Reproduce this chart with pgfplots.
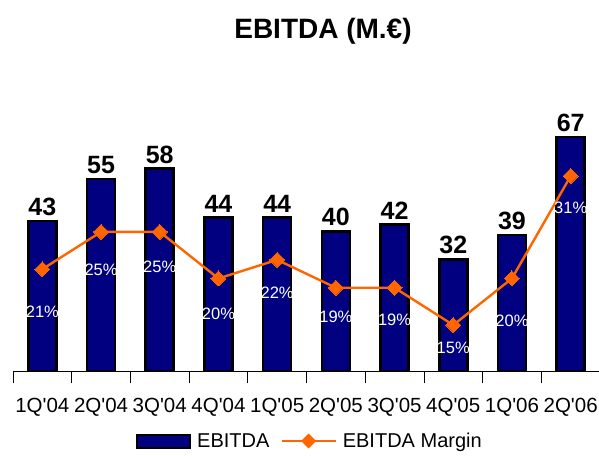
\documentclass[border=0pt]{standalone}
\usepackage{pgfplots}
\pgfplotsset{compat=1.18}
\usepackage{fontspec}
\setmainfont{Liberation Sans}
\definecolor{navy}{RGB}{0,0,128}
\definecolor{orng}{RGB}{255,102,0}
\pgfplotstableread{
x v
0 43
1 55
2 58
3 44
4 44
5 40
6 42
7 32
8 39
9 67
}\ebitda
\pgfplotstableread{
x m off
0 21 43
1 25 38
2 25 35
3 20 35
4 22 33
5 19 29
6 19 32
7 15 23
8 20 42
9 31 32
}\margin
\newcommand{\q}{\textquotesingle}
\begin{document}
\begin{tikzpicture}
\path[use as bounding box] (0pt,0pt) rectangle (599pt,455pt);
\node[font=\fontsize{28}{28}\selectfont\bfseries] at (323pt,424pt) {EBITDA (M.€)};
\begin{axis}[
  at={(13pt,84pt)}, anchor=south west, scale only axis,
  width=587pt, height=271pt,
  xmin=-0.5, xmax=9.5, ymin=0, ymax=77.65,
  clip=false,
  /pgf/number format/assume math mode=true,
  axis x line*=bottom, axis y line=none,
  x axis line style={-, black, line width=0.8pt},
  xtick={0,...,9},
  xticklabels={1Q\q04,2Q\q04,3Q\q04,4Q\q04,1Q\q05,2Q\q05,3Q\q05,4Q\q05,1Q\q06,2Q\q06},
  major tick length=0pt,
  minor xtick={-0.5,0.5,...,9.5},
  minor tick length=12pt,
  tick align=center,
  minor tick style={black, line width=0.8pt},
  xticklabel style={font=\fontsize{20.5}{20.5}\selectfont, anchor=base, yshift=-41pt},
  ybar, bar width=28pt,
  nodes near coords,
  point meta=y,
  every node near coord/.append style={font=\fontsize{25}{25}\selectfont\bfseries, black, anchor=south, inner sep=0pt, yshift=4pt},
  legend columns=2,
  legend style={at={(rel axis cs:0.2095,-0.2583)}, anchor=west, draw=none, fill=none, inner sep=0pt,
    font=\fontsize{20}{20}\selectfont,
    /tikz/every odd column/.append style={column sep=4pt},
    /tikz/every even column/.append style={column sep=9pt}},
]
\addplot[fill=navy, draw=black, line width=2.6pt,
  legend image code/.code={\draw[fill=navy,draw=black,line width=2pt] (0pt,-6.5pt) rectangle (53pt,6.5pt);}]
  table[x=x,y=v]{\ebitda};
\addlegendentry{EBITDA}
\addlegendimage{legend image code/.code={\draw[orng,line width=2.4pt] (0pt,0pt)--(54pt,0pt); \node[fill=orng,rotate=45,minimum size=10.6pt,inner sep=0pt] at (27pt,0pt) {};}}
\addlegendentry{EBITDA Margin}
\end{axis}
\begin{axis}[
  at={(13pt,84pt)}, anchor=south west, scale only axis,
  width=587pt, height=271pt,
  xmin=-0.5, xmax=9.5, ymin=10.06, ymax=39.17,
  clip=false, hide axis,
  /pgf/number format/assume math mode=true,
  nodes near coords={\pgfmathprintnumber{\pgfplotspointmeta}\%},
  point meta=y,
  visualization depends on={\thisrow{off}\as\myoff},
  every node near coord/.append style={font=\fontsize{16.5}{16.5}\selectfont, white, anchor=center, yshift=-\myoff pt},
]
\addplot[orng, line width=2.4pt, mark=square*, mark size=5.3pt, mark options={rotate=45, fill=orng, draw=orng, line width=0pt}]
  table[x=x,y=m]{\margin};
\end{axis}
\end{tikzpicture}
\end{document}
